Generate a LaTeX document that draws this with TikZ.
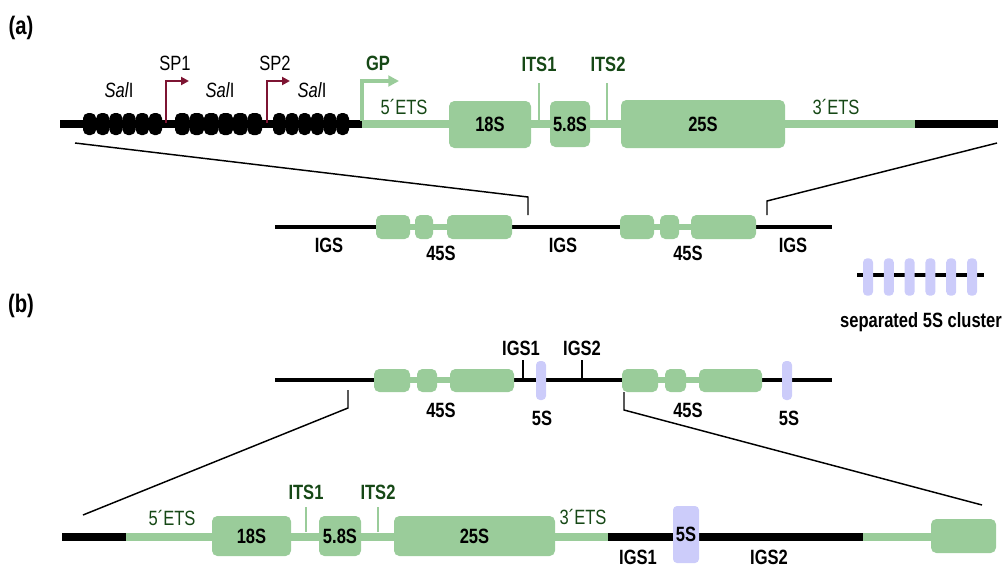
\documentclass[tikz,border=0pt]{standalone}
\usepackage{fontspec}
\setmainfont{Liberation Sans}[FakeStretch=0.8]
\usetikzlibrary{arrows.meta}
\definecolor{gfill}{RGB}{154,204,154}
\definecolor{dgreen}{RGB}{22,72,22}
\definecolor{lav}{RGB}{204,204,250}
\definecolor{maroon}{RGB}{125,20,50}
\newcommand\bx[7]{\node[#1, minimum width={(#4-#3)*0.75pt}, minimum height={(#6-#5)*0.75pt}] (#2) at ({(#3+#4)/2},{(#5+#6)/2}) {#7};}
\begin{document}
\begin{tikzpicture}[x=0.75pt,y=-0.75pt,
  font=\fontsize{15.5}{17}\selectfont,
  gbox/.style={fill=gfill, rounded corners=4pt, inner sep=0pt, font=\fontsize{15.5}{17}\selectfont\bfseries},
  lbox/.style={fill=lav, rounded corners=3pt, inner sep=0pt, font=\fontsize{15.5}{17}\selectfont\bfseries},
  blob/.style={fill=black, rounded corners=4pt, inner sep=0pt, minimum height=16.5pt},
  thickblk/.style={line width=6pt, draw=black},
  thickgrn/.style={line width=6pt, draw=gfill},
  midblk/.style={line width=3.6pt, draw=black},
  midgrn/.style={line width=4pt, draw=gfill},
  zoomline/.style={line width=1.1pt, draw=black},
  lbl/.style={font=\fontsize{15.5}{17}\selectfont\bfseries, inner sep=0pt},
  panel/.style={font=\fontsize{19}{21}\selectfont\bfseries, inner sep=0pt},
  glbl/.style={font=\fontsize{15.5}{17}\selectfont, text=dgreen, inner sep=0pt},
  gblbl/.style={font=\fontsize{15.5}{17}\selectfont\bfseries, text=dgreen, inner sep=0pt},
  plbl/.style={font=\fontsize{15.5}{17}\selectfont, inner sep=0pt},
  itstick/.style={line width=2.2pt, draw=gfill},
  igstick/.style={line width=1.6pt, draw=black},
  sparrow/.style={line width=1.6pt, draw=maroon, -{Triangle[length=6pt,width=6pt]}},
  gparrow/.style={line width=2.4pt, draw=gfill, -{Triangle[length=8pt,width=8pt]}}
]
\useasboundingbox (0,0) rectangle (1006,567);

% ---------------- (a) ----------------
\node[panel] (la) at (21,28) {(a)};

% top row lines
\coordinate (a0) at (60,124);
\coordinate (a1) at (362,124);
\coordinate (a2) at (915,124);
\coordinate (a3) at (998,124);
\draw[thickblk] (a0) -- (a1);
\draw[thickgrn] (a1) -- (a2);
\draw[thickblk] (a2) -- (a3);

% SalI repeat blobs
\foreach \g/\s/\e in {1/83/162,2/175/262,3/273/349}{
  \pgfmathsetmacro\w{(\e-\s)/6}
  \foreach \i in {0,...,5}{
    \node[blob, minimum width={\w*0.75pt}] (bl\g\i) at ({\s+\w/2+\w*\i},124) {};
  }
}
\node[plbl] (sal1) at (119,90) {\textit{Sal}I};
\node[plbl] (sal2) at (220,90) {\textit{Sal}I};
\node[plbl] (sal3) at (312,90) {\textit{Sal}I};

% promoters
\coordinate (sp1b) at (166,123);
\coordinate (sp1t) at (189,81);
\coordinate (sp2b) at (267,123);
\coordinate (sp2t) at (290,81);
\draw[sparrow] (sp1b) |- (sp1t);
\draw[sparrow] (sp2b) |- (sp2t);
\node[plbl] (sp1) at (175,63) {SP1};
\node[plbl] (sp2) at (275,63) {SP2};
\coordinate (gpb) at (362,121);
\coordinate (gpt) at (399,81);
\draw[gparrow] (gpb) |- (gpt);
\node[gblbl] (gp) at (378,63) {GP};

% rRNA genes top
\bx{gbox}{a18S}{449}{531}{101}{148}{18S}
\bx{gbox}{a58S}{550}{590}{101}{147}{5.8S}
\bx{gbox}{a25S}{621}{785}{100}{148}{25S}
\node[glbl] (a5ets) at (404,107) {5´ETS};
\node[glbl] (a3ets) at (836,107) {3´ETS};
\coordinate (its1b) at (539,120);
\coordinate (its1t) at (539,83);
\coordinate (its2b) at (607,120);
\coordinate (its2t) at (607,83);
\draw[itstick] (its1b) -- (its1t);
\draw[itstick] (its2b) -- (its2t);
\node[gblbl] (its1) at (539,64) {ITS1};
\node[gblbl] (its2) at (608,64) {ITS2};

% zoom lines (a)
\coordinate (z1a) at (75,143);
\coordinate (z1b) at (528,197);
\coordinate (z1c) at (528,215);
\coordinate (z2a) at (997,143);
\coordinate (z2b) at (767,201);
\coordinate (z2c) at (767,215);
\draw[zoomline] (z1a) -- (z1b) -- (z1c);
\draw[zoomline] (z2a) -- (z2b) -- (z2c);

% middle row (a)
\coordinate (m0) at (275,227);
\coordinate (m1) at (832,227);
\draw[midblk] (m0) -- (m1);
\coordinate (g1s) at (377,227);
\coordinate (g1e) at (511,227);
\coordinate (g2s) at (620,227);
\coordinate (g2e) at (754,227);
\draw[midgrn] (g1s) -- (g1e);
\draw[midgrn] (g2s) -- (g2e);
\bx{gbox}{ma1}{376}{410}{215}{239}{}
\bx{gbox}{ma2}{415}{433}{215}{239}{}
\bx{gbox}{ma3}{447}{512}{215}{239}{}
\bx{gbox}{mb1}{620}{654}{215}{239}{}
\bx{gbox}{mb2}{660}{679}{215}{239}{}
\bx{gbox}{mb3}{691}{756}{215}{239}{}
\node[lbl] (igs1) at (329,245) {IGS};
\node[lbl] (f45a) at (441,253) {45S};
\node[lbl] (igs2) at (563,245) {IGS};
\node[lbl] (f45b) at (688,253) {45S};
\node[lbl] (igs3) at (793,245) {IGS};

% separated 5S cluster
\coordinate (c0) at (857,275);
\coordinate (c1) at (984,275);
\draw[line width=3pt] (c0) -- (c1);
\foreach \i in {0,...,5}{
  \node[lbox, minimum width=7.5pt, minimum height=28pt] (cl\i) at ({868+20.8*\i},277) {};
}
\node[lbl] (sep) at (921,322) {separated 5S cluster};

% ---------------- (b) ----------------
\node[panel] (lb) at (21,306) {(b)};

\coordinate (n0) at (275,380);
\coordinate (n1) at (832,380);
\draw[midblk] (n0) -- (n1);
\coordinate (h1s) at (375,380);
\coordinate (h1e) at (513,380);
\coordinate (h2s) at (623,380);
\coordinate (h2e) at (761,380);
\draw[midgrn] (h1s) -- (h1e);
\draw[midgrn] (h2s) -- (h2e);
\bx{gbox}{na1}{374}{410}{369}{392}{}
\bx{gbox}{na2}{417}{437}{369}{392}{}
\bx{gbox}{na3}{450}{514}{369}{392}{}
\bx{gbox}{nb1}{622}{658}{369}{392}{}
\bx{gbox}{nb2}{665}{686}{369}{392}{}
\bx{gbox}{nb3}{699}{762}{369}{392}{}
\bx{lbox}{n5a}{536}{546}{361}{400}{}
\bx{lbox}{n5b}{782}{792}{361}{400}{}
\coordinate (ig1b) at (523,381);
\coordinate (ig1t) at (523,360);
\coordinate (ig2b) at (582,381);
\coordinate (ig2t) at (582,360);
\draw[igstick] (ig1b) -- (ig1t);
\draw[igstick] (ig2b) -- (ig2t);
\node[lbl] (bigs1) at (521,348) {IGS1};
\node[lbl] (bigs2) at (582,348) {IGS2};
\node[lbl] (b45a) at (441,410) {45S};
\node[lbl] (b5a) at (542,418) {5S};
\node[lbl] (b45b) at (688,410) {45S};
\node[lbl] (b5b) at (789,418) {5S};

% zoom lines (b)
\coordinate (y1a) at (348,390);
\coordinate (y1b) at (348,408);
\coordinate (y1c) at (83,515);
\coordinate (y2a) at (624,392);
\coordinate (y2b) at (624,410);
\coordinate (y2c) at (982,505);
\draw[zoomline] (y1a) -- (y1b) -- (y1c);
\draw[zoomline] (y2a) -- (y2b) -- (y2c);

% bottom row
\coordinate (r0) at (62,537);
\coordinate (r1) at (126,537);
\coordinate (r2) at (608,537);
\coordinate (r3) at (863,537);
\coordinate (r4) at (935,537);
\draw[thickblk] (r0) -- (r1);
\draw[thickgrn] (r1) -- (r2);
\draw[thickblk] (r2) -- (r3);
\draw[thickgrn] (r3) -- (r4);
\bx{gbox}{r18S}{212}{291}{516}{556}{18S}
\bx{gbox}{r58S}{319}{361}{516}{556}{5.8S}
\bx{gbox}{r25S}{394}{555}{516}{556}{25S}
\bx{gbox}{rend}{931}{996}{519}{553}{}
\bx{lbox}{r5S}{673}{699}{506}{563}{5S}
\coordinate (rits1b) at (306,532);
\coordinate (rits1t) at (306,507);
\coordinate (rits2b) at (378,532);
\coordinate (rits2t) at (378,507);
\draw[itstick] (rits1b) -- (rits1t);
\draw[itstick] (rits2b) -- (rits2t);
\node[gblbl] (rlits1) at (306,492) {ITS1};
\node[gblbl] (rlits2) at (378,492) {ITS2};
\node[glbl] (r5ets) at (172,518) {5´ETS};
\node[glbl] (r3ets) at (583,517) {3´ETS};
\node[lbl] (rigs1) at (638,557) {IGS1};
\node[lbl] (rigs2) at (769,557) {IGS2};
\end{tikzpicture}
\end{document}
